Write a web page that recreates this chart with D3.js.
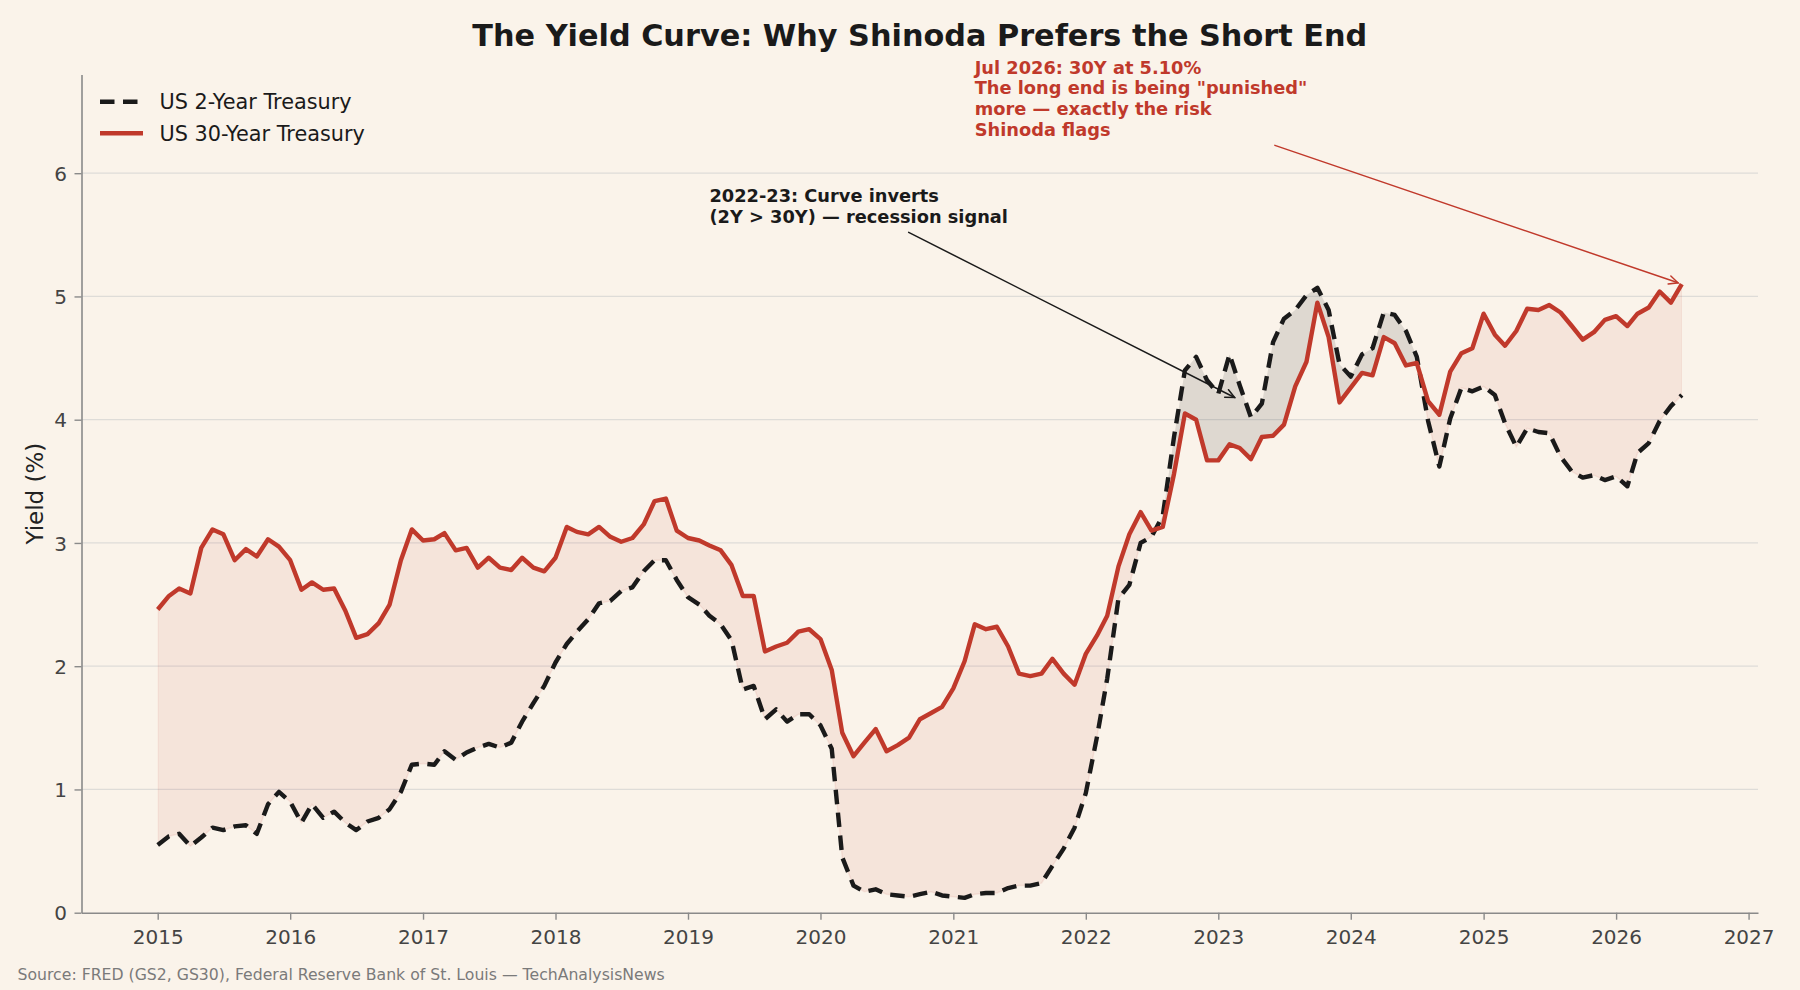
<!DOCTYPE html>
<html>
<head>
<meta charset="utf-8">
<script src="https://cdn.jsdelivr.net/npm/d3@7"></script>
<style>
  html, body { margin: 0; padding: 0; background: #faf3ea; }
  svg { display: block; }
  text { font-family: "DejaVu Sans", sans-serif; }
</style>
</head>
<body>
<svg id="chart" width="1800" height="990"></svg>
<script>
// ---------------- DATA ----------------
// Monthly observations, Jan 2015 .. Jul 2026
const months = d3.timeMonth.range(new Date(2015, 0, 1), new Date(2026, 7, 1));

// US 2-Year Treasury (GS2), %
const us2y = [
  0.55,0.62,0.64,0.54,0.61,0.69,0.67,0.70,0.71,0.64,0.88,0.98,   // 2015
  0.90,0.73,0.88,0.77,0.82,0.73,0.67,0.74,0.77,0.84,0.98,1.20,   // 2016
  1.21,1.20,1.31,1.24,1.30,1.34,1.37,1.34,1.38,1.55,1.70,1.84,   // 2017
  2.03,2.18,2.28,2.38,2.51,2.53,2.61,2.64,2.77,2.86,2.86,2.70,   // 2018
  2.56,2.50,2.41,2.34,2.21,1.81,1.84,1.57,1.65,1.55,1.61,1.61,   // 2019
  1.52,1.33,0.45,0.22,0.17,0.19,0.15,0.14,0.13,0.15,0.17,0.14,   // 2020
  0.13,0.12,0.15,0.16,0.16,0.20,0.22,0.22,0.24,0.38,0.52,0.69,   // 2021
  0.97,1.43,1.90,2.55,2.66,3.00,3.05,3.22,3.86,4.40,4.51,4.32,   // 2022
  4.21,4.53,4.28,4.02,4.13,4.63,4.82,4.89,5.01,5.07,4.89,4.45,   // 2023
  4.35,4.53,4.58,4.87,4.85,4.72,4.51,3.99,3.62,4.01,4.26,4.23,   // 2024
  4.27,4.20,3.97,3.78,3.93,3.90,3.89,3.70,3.58,3.53,3.55,3.51,   // 2025
  3.54,3.46,3.73,3.81,3.99,4.11,4.20                             // 2026
];

// US 30-Year Treasury (GS30), %
const us30y = [
  2.46,2.57,2.63,2.59,2.96,3.11,3.07,2.86,2.95,2.89,3.03,2.97,   // 2015
  2.86,2.62,2.68,2.62,2.63,2.45,2.23,2.26,2.35,2.50,2.86,3.11,   // 2016
  3.02,3.03,3.08,2.94,2.96,2.80,2.88,2.80,2.78,2.88,2.80,2.77,   // 2017
  2.88,3.13,3.09,3.07,3.13,3.05,3.01,3.04,3.15,3.34,3.36,3.10,   // 2018
  3.04,3.02,2.98,2.94,2.82,2.57,2.57,2.12,2.16,2.19,2.28,2.30,   // 2019
  2.22,1.97,1.46,1.27,1.38,1.49,1.31,1.36,1.42,1.57,1.62,1.67,   // 2020
  1.82,2.04,2.34,2.30,2.32,2.16,1.94,1.92,1.94,2.06,1.94,1.85,   // 2021
  2.10,2.25,2.41,2.81,3.07,3.25,3.10,3.13,3.56,4.05,4.00,3.67,   // 2022
  3.67,3.80,3.77,3.68,3.86,3.87,3.96,4.27,4.47,4.95,4.67,4.14,   // 2023
  4.26,4.38,4.36,4.67,4.62,4.44,4.46,4.15,4.04,4.39,4.54,4.58,   // 2024
  4.86,4.69,4.60,4.72,4.90,4.89,4.93,4.87,4.76,4.65,4.71,4.81,   // 2025
  4.84,4.76,4.86,4.91,5.04,4.95,5.10                             // 2026
];

const seriesNames = ["US 2-Year Treasury", "US 30-Year Treasury"];
const yTicks = [0, 1, 2, 3, 4, 5, 6];

const titleText = "The Yield Curve: Why Shinoda Prefers the Short End";
const yLabel = "Yield (%)";
const sourceText = "Source: FRED (GS2, GS30), Federal Reserve Bank of St. Louis \u2014 TechAnalysisNews";

const annotations = [
  { lines: ["2022-23: Curve inverts", "(2Y > 30Y) \u2014 recession signal"],
    color: "#1a1a1a", textAt: [new Date(2019, 2, 1), 5.765],
    from: [new Date(2020, 7, 31), 5.52], to: [new Date(2023, 1, 15), 4.18], shrink: 0 },
  { lines: ["Jul 2026: 30Y at 5.10%", "The long end is being \"punished\"", "more \u2014 exactly the risk", "Shinoda flags"],
    color: "#c0392b", textAt: [new Date(2021, 2, 1), 6.806],
    from: [new Date(2023, 5, 6), 6.226], to: [new Date(2026, 6, 1), 5.10], shrink: 4 }
];

// ---------------- STYLE ----------------
const C = {
  bg: "#faf3ea", red: "#c0392b", black: "#1a1a1a", grid: "#dedcd8",
  spine: "#8a8a8a", tick: "#444444", title: "#1a1a1a", source: "#7a7a7a"
};
const M = { left: 81.5, right: 1758, top: 74.6, bottom: 912.7 };

// ---------------- CHART ----------------
const data = months.map((d, i) => ({ date: d, y2: us2y[i], y30: us30y[i] }));
const svg = d3.select("#chart");
svg.append("rect").attr("width", 1800).attr("height", 990).attr("fill", C.bg);

const ext = d3.extent(months);
const pad = (ext[1] - ext[0]) * 0.05;
const x = d3.scaleTime()
  .domain([new Date(+ext[0] - pad), new Date(+ext[1] + pad)])
  .range([M.left, M.right]);
const y = d3.scaleLinear().domain([0, 6.8]).range([M.bottom, M.top]);

// grid
svg.append("g").selectAll("line").data(yTicks.filter(t => t > 0)).join("line")
  .attr("x1", M.left).attr("x2", M.right)
  .attr("y1", d => y(d)).attr("y2", d => y(d))
  .attr("stroke", C.grid).attr("stroke-width", 1.2);

// clip paths for difference fills
const defs = svg.append("defs");
defs.append("clipPath").attr("id", "belowRed").append("path")
  .attr("d", d3.area().x(d => x(d.date)).y0(990).y1(d => y(d.y30))(data));
defs.append("clipPath").attr("id", "belowBlack").append("path")
  .attr("d", d3.area().x(d => x(d.date)).y0(990).y1(d => y(d.y2))(data));

// normal curve (30Y above 2Y): pink
svg.append("path")
  .attr("d", d3.area().x(d => x(d.date)).y0(d => y(d.y2)).y1(0)(data))
  .attr("clip-path", "url(#belowRed)")
  .attr("fill", C.red).attr("fill-opacity", 0.08)
  .attr("stroke", C.red).attr("stroke-opacity", 0.08).attr("stroke-width", 1.5);

// inverted curve (2Y above 30Y): grey
svg.append("path")
  .attr("d", d3.area().x(d => x(d.date)).y0(d => y(d.y30)).y1(0)(data))
  .attr("clip-path", "url(#belowBlack)")
  .attr("fill", C.black).attr("fill-opacity", 0.12)
  .attr("stroke", C.black).attr("stroke-opacity", 0.12).attr("stroke-width", 1.5);

// lines
svg.append("path")
  .attr("d", d3.line().x(d => x(d.date)).y(d => y(d.y2))(data))
  .attr("fill", "none").attr("stroke", C.black).attr("stroke-width", 4.4)
  .attr("stroke-dasharray", "14.5,8.5").attr("stroke-linejoin", "round");
svg.append("path")
  .attr("d", d3.line().x(d => x(d.date)).y(d => y(d.y30))(data))
  .attr("fill", "none").attr("stroke", C.red).attr("stroke-width", 4.4)
  .attr("stroke-linejoin", "round");

// axes
const xAxis = svg.append("g").attr("transform", `translate(0,${M.bottom})`)
  .call(d3.axisBottom(x).ticks(d3.timeYear.every(1)).tickFormat(d3.timeFormat("%Y"))
    .tickSize(7).tickSizeOuter(0));
const yAxis = svg.append("g").attr("transform", `translate(${M.left},0)`)
  .call(d3.axisLeft(y).tickValues(yTicks).tickFormat(d3.format("d"))
    .tickSize(7).tickSizeOuter(0));
[xAxis, yAxis].forEach(g => {
  g.select(".domain").attr("stroke", C.spine).attr("stroke-width", 1.6);
  g.selectAll(".tick line").attr("stroke", C.spine).attr("stroke-width", 1.4);
  g.selectAll(".tick text").attr("fill", C.tick).attr("font-size", 20)
    .attr("font-family", "DejaVu Sans");
});
xAxis.selectAll(".tick text").attr("y", 31.5).attr("dy", null);
yAxis.selectAll(".tick text").attr("x", -14.5).attr("dy", "0.36em");

// title
svg.append("text").attr("x", (M.left + M.right) / 2).attr("y", 46)
  .attr("text-anchor", "middle").attr("font-size", 30.3).attr("font-weight", "bold")
  .attr("fill", C.title).text(titleText);

// y label
svg.append("text").attr("transform", `translate(43,${(M.top + M.bottom) / 2}) rotate(-90)`)
  .attr("text-anchor", "middle").attr("font-size", 23).attr("fill", "#222")
  .text(yLabel);

// source
svg.append("text").attr("x", 17.5).attr("y", 980).attr("font-size", 15.7)
  .attr("fill", C.source).text(sourceText);

// legend
const legend = svg.append("g");
const legItems = [
  { name: seriesNames[0], color: C.black, dash: "14.5,8.5", yy: 101.7 },
  { name: seriesNames[1], color: C.red, dash: null, yy: 133.3 }
];
legItems.forEach(it => {
  legend.append("line").attr("x1", 100).attr("x2", 143).attr("y1", it.yy).attr("y2", it.yy)
    .attr("stroke", it.color).attr("stroke-width", 4.6)
    .attr("stroke-dasharray", it.dash);
  legend.append("text").attr("x", 159.5).attr("y", it.yy + 7.6)
    .attr("font-size", 20.8).attr("fill", "#1a1a1a").text(it.name);
});

// annotations
annotations.forEach(a => {
  const tx = x(a.textAt[0]), ty = y(a.textAt[1]);
  const t = svg.append("text").attr("font-size", 17.8).attr("font-weight", "bold")
    .attr("fill", a.color);
  a.lines.forEach((ln, i) => {
    t.append("tspan").attr("x", tx).attr("y", ty + i * 20.6).text(ln);
  });
  let x1 = x(a.from[0]), y1 = y(a.from[1]);
  let x2 = x(a.to[0]), y2 = y(a.to[1]);
  const dx = x2 - x1, dy = y2 - y1, L = Math.hypot(dx, dy);
  const ux = dx / L, uy = dy / L;
  x2 -= ux * a.shrink; y2 -= uy * a.shrink;
  const g = svg.append("g").attr("stroke", a.color).attr("fill", "none")
    .attr("stroke-width", 1.5).attr("stroke-linecap", "round");
  g.append("line").attr("x1", x1).attr("y1", y1).attr("x2", x2).attr("y2", y2);
  const hl = 9, hw = 4.2;
  const bx = x2 - ux * hl, by = y2 - uy * hl;
  g.append("path").attr("d",
    `M${bx - uy * hw},${by + ux * hw}L${x2},${y2}L${bx + uy * hw},${by - ux * hw}`)
    .attr("stroke-linejoin", "miter");
});
</script>
</body>
</html>
